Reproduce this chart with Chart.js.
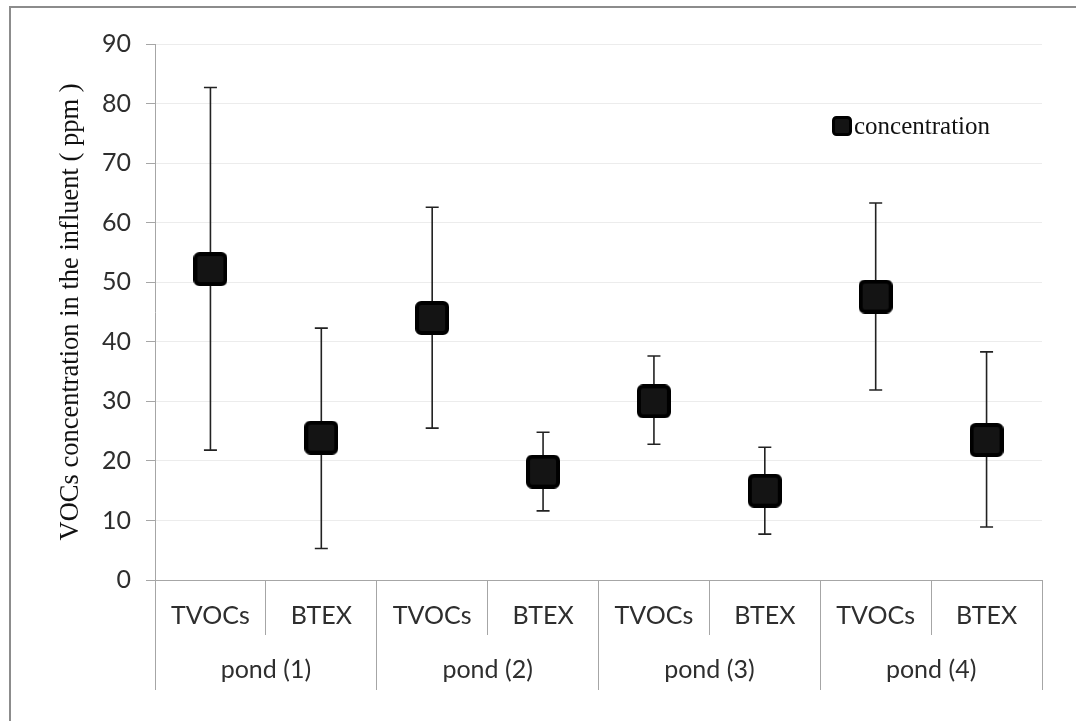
<!DOCTYPE html>
<html>
<head>
<meta charset="utf-8">
<script src="https://cdn.jsdelivr.net/npm/chart.js@4.4.1/dist/chart.umd.min.js"></script>
<style>
  html, body { margin: 0; padding: 0; background: #fff; }
  #wrap { position: relative; width: 1076px; height: 721px; overflow: hidden; }
  #frame { position: absolute; left: 9px; top: 6px; right: -10px; bottom: -10px;
           border-left: 2px solid #8c8c8c; border-top: 2px solid #8c8c8c; pointer-events: none; }
</style>
</head>
<body>
<div id="wrap">
  <canvas id="chart" width="1076" height="721"></canvas>
  <div id="frame"></div>
</div>
<script>
// samples per pond and the two pond groupings on the lower axis row
const categories = ['TVOCs', 'BTEX', 'TVOCs', 'BTEX', 'TVOCs', 'BTEX', 'TVOCs', 'BTEX'];
const ponds = ['pond (1)', 'pond (2)', 'pond (3)', 'pond (4)'];

// mean concentration (ppm) with upper / lower ends of the error bars
const meanValues  = [52.2, 23.9, 44.0, 18.2, 30.0, 15.0, 47.6, 23.5];
const upperValues = [82.7, 42.3, 62.6, 24.8, 37.6, 22.3, 63.3, 38.3];
const lowerValues = [21.8,  5.3, 25.5, 11.6, 22.8,  7.7, 31.9,  8.9];

const yMin = 0, yMax = 90, yStep = 10;

const axisGray = '#a6a6a6';
const labelColor = '#2e2e2e';
const tickFont = { family: 'Lato', size: 25 };

// black rounded square used as the point marker
function squareMarker(size, border, corner) {
  const c = document.createElement('canvas');
  c.width = size; c.height = size;
  const g = c.getContext('2d');
  g.fillStyle = '#141414';
  g.strokeStyle = '#000';
  g.lineWidth = border;
  g.beginPath();
  g.roundRect(border / 2, border / 2, size - border, size - border, corner);
  g.fill();
  g.stroke();
  return c;
}
const pointMarker = squareMarker(34, 4, 4);
const legendMarker = squareMarker(20, 3, 3);

// vertical error bars with caps, drawn under the markers
const errorBars = {
  id: 'errorBars',
  beforeDatasetsDraw(chart) {
    const { ctx } = chart;
    const xs = chart.scales.x, ys = chart.scales.y;
    ctx.save();
    ctx.strokeStyle = '#222';
    ctx.lineWidth = 1.6;
    meanValues.forEach((v, i) => {
      const x = xs.getPixelForValue(i);
      const yt = ys.getPixelForValue(upperValues[i]);
      const yb = ys.getPixelForValue(lowerValues[i]);
      ctx.beginPath();
      ctx.moveTo(x, yt); ctx.lineTo(x, yb);
      ctx.moveTo(x - 6.5, yt); ctx.lineTo(x + 6.5, yt);
      ctx.moveTo(x - 6.5, yb); ctx.lineTo(x + 6.5, yb);
      ctx.stroke();
    });
    ctx.restore();
  }
};

// small legend sitting inside the plot, upper right
const legendBox = {
  id: 'legendBox',
  afterDraw(chart) {
    const { ctx, chartArea } = chart;
    const x = chartArea.left + 677;
    const y = chartArea.top + 82;
    ctx.save();
    ctx.drawImage(legendMarker, x, y - 10);
    ctx.font = '25px "Liberation Serif"';
    ctx.fillStyle = '#111';
    ctx.textBaseline = 'middle';
    ctx.fillText(chart.data.datasets[0].label, x + 22, y + 1);
    ctx.restore();
  }
};

new Chart(document.getElementById('chart'), {
  type: 'line',
  data: {
    labels: categories,
    datasets: [{
      label: 'concentration',
      data: meanValues,
      showLine: false,
      pointStyle: pointMarker,
      pointRadius: 17,
      pointHoverRadius: 17,
      xAxisID: 'x',
      yAxisID: 'y'
    }]
  },
  options: {
    responsive: false,
    animation: false,
    events: [],
    layout: { padding: { left: 12, top: 44, right: 34, bottom: 31 } },
    plugins: { legend: { display: false }, tooltip: { enabled: false } },
    scales: {
      y: {
        min: yMin, max: yMax,
        ticks: { stepSize: yStep, padding: 15, color: labelColor, font: tickFont },
        grid: { color: '#ececec', tickColor: axisGray, tickLength: 9 },
        border: { color: axisGray },
        title: {
          display: true,
          text: 'VOCs concentration in the influent ( ppm )',
          color: '#111',
          font: { family: 'Liberation Serif', size: 26.5 },
          padding: { top: 43, bottom: 0 }
        },
        afterFit(s) { s.width = 143; }
      },
      x: {
        type: 'category',
        position: 'bottom',
        offset: true,
        grid: { offset: true, drawOnChartArea: false, tickLength: 55, tickColor: axisGray },
        border: { color: axisGray },
        ticks: { padding: -34, maxRotation: 0, autoSkip: false, color: labelColor, font: tickFont },
        afterFit(s) { s.height = 55; }
      },
      x2: {
        type: 'category',
        labels: ponds,
        position: 'bottom',
        offset: true,
        grid: { offset: true, drawOnChartArea: false, tickLength: 55, tickColor: axisGray },
        border: { display: false },
        ticks: { padding: -35, maxRotation: 0, autoSkip: false, color: labelColor, font: tickFont },
        afterFit(s) { s.height = 55; }
      }
    }
  },
  plugins: [errorBars, legendBox]
});
</script>
</body>
</html>
